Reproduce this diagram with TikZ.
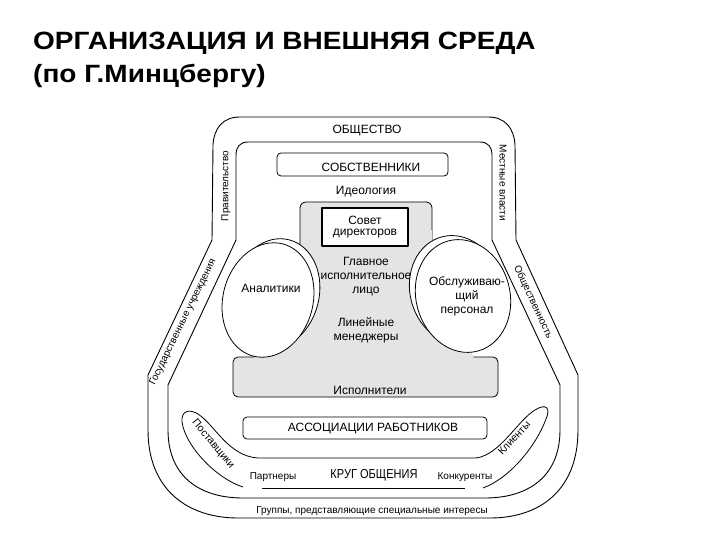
\documentclass[tikz,border=0pt]{standalone}
\usepackage{fontspec}
\setmainfont{Liberation Sans}
\definecolor{gr}{RGB}{228,228,228}
\begin{document}
\begin{tikzpicture}[x=1pt,y=-1pt,line join=round,
  lbl/.style={font=\fontsize{12}{14}\selectfont,align=center,inner sep=0pt},
  sm/.style={font=\fontsize{10}{12}\selectfont,inner sep=0pt},
  ttl/.style={font=\fontsize{25}{30}\selectfont\bfseries,anchor=base west,inner sep=0pt},
  ln/.style={line width=0.9pt},
  box/.style={draw,line width=0.8pt,rounded corners=4}]
\useasboundingbox (0,0) rectangle (720,540);
\fill[white] (0,0) rectangle (720,540);
% title
\node[ttl] (t1) at (33,50) {\scalebox{1.12}[1]{ОРГАНИЗАЦИЯ И ВНЕШНЯЯ СРЕДА}};
\node[ttl] (t2) at (33,83) {\scalebox{1.12}[1]{(по Г.Минцбергу)}};
% outer line
\draw[ln] (364,117) -- (488,117) .. controls (505,117) and (514,128) .. (515,145) -- (516,240) -- (578,375) -- (578,430)
  .. controls (578,490) and (540,518) .. (490,518) -- (238,518) .. controls (188,518) and (148,490) .. (148,430)
  -- (148,375) -- (212,240) -- (213,145) .. controls (214,128) and (223,117) .. (240,117) -- cycle;
% inner line
\draw[ln] (364,142) -- (480,142) .. controls (488,142) and (492,147) .. (492,155) -- (492,240) -- (560,385) -- (560,430)
  .. controls (560,475) and (530,498) .. (485,498) -- (243,498) .. controls (198,498) and (168,475) .. (168,430)
  -- (168,385) -- (236,240) -- (236,155) .. controls (236,147) and (240,142) .. (248,142) -- cycle;
% band labels
\node[lbl] (obsh) at (367,131) {ОБЩЕСТВО};
\node[sm,rotate=90] (prav) at (226,186) {Правительство};
\node[sm,rotate=-90] (mest) at (503,183) {Местные власти};
\node[sm,rotate=64] (gos) at (183,322) {Государственные учреждения};
\node[sm,rotate=-65] (obshn) at (533,302) {Общественность};
\node[sm] (grp) at (372,511) {Группы, представляющие специальные интересы};
% owners
\draw[box] (277,153) rectangle (448,176);
\node[lbl] (sob) at (371,167) {СОБСТВЕННИКИ};
\node[lbl] (ideo) at (366,192) {Идеология};
% organization
\draw[box,fill=gr,rounded corners=5] (233,357) rectangle (498,397);
\fill[gr] (300,240) -- (432,240) -- (474,358.8) -- (254,358.8) -- cycle;
\draw[fill=gr,line width=0.8pt,rounded corners=6] (300,262) -- (300,202) -- (432,202) -- (432,262);
\fill[gr] (300.5,230) rectangle (431.5,262);
\draw[line width=2.4pt,fill=white] (322,208) rectangle (408,246);
\node[lbl] (sovet) at (365,227) {Совет\\[-3pt]директоров};
% ellipses
\draw[line width=0.8pt,fill=white,rotate around={-15:(275,294)}] (275,294) ellipse [x radius=44, y radius=56];
\draw[line width=0.8pt,fill=white,rotate around={-15:(268,300)}] (268,300) ellipse [x radius=45, y radius=58];
\draw[line width=0.8pt,fill=white,rotate around={15:(456,290)}] (456,290) ellipse [x radius=46, y radius=55];
\draw[line width=0.8pt,fill=white,rotate around={15:(463,296)}] (463,296) ellipse [x radius=47, y radius=57];
\node[lbl] (anal) at (271,288) {Аналитики};
\node[lbl] (obsl) at (467,296) {Обслуживаю-\\щий\\персонал};
\node[lbl] (glav) at (366,277) {Главное\\исполнительное\\лицо};
\node[lbl] (lin) at (366,330) {Линейные\\менеджеры};
\node[lbl] (isp) at (370,390) {Исполнители};
% associations
\draw[box] (243,417) rectangle (487,439);
\node[lbl] (assoc) at (373,429) {АССОЦИАЦИИ РАБОТНИКОВ};
% circle of contacts
\draw[line width=0.8pt] (243,487) .. controls (215,478) and (185,445) .. (182,422)
  .. controls (181,410) and (190,409) .. (198,414) .. controls (215,425) and (228,456) .. (258,458)
  -- (476,458) .. controls (500,455) and (518,420) .. (535,410)
  .. controls (546,403) and (551,408) .. (546,419) .. controls (536,446) and (510,478) .. (483,488);
\coordinate (la) at (262,488);
\coordinate (lb) at (465,488);
\draw[line width=0.8pt] (la) -- (lb);
\node[sm,font=\fontsize{10.5}{12}\selectfont,rotate=-50] (post) at (213,444) {Поставщики};
\node[sm,font=\fontsize{10.5}{12}\selectfont,rotate=47] (kli) at (514,438) {Клиенты};
\node[sm] (part) at (273,477) {Партнеры};
\node[sm] (konk) at (465,477) {Конкуренты};
\node[inner sep=0pt,font=\fontsize{13}{14}\selectfont] (krug) at (374,475) {\scalebox{0.85}[1]{КРУГ ОБЩЕНИЯ}};
\end{tikzpicture}
\end{document}
